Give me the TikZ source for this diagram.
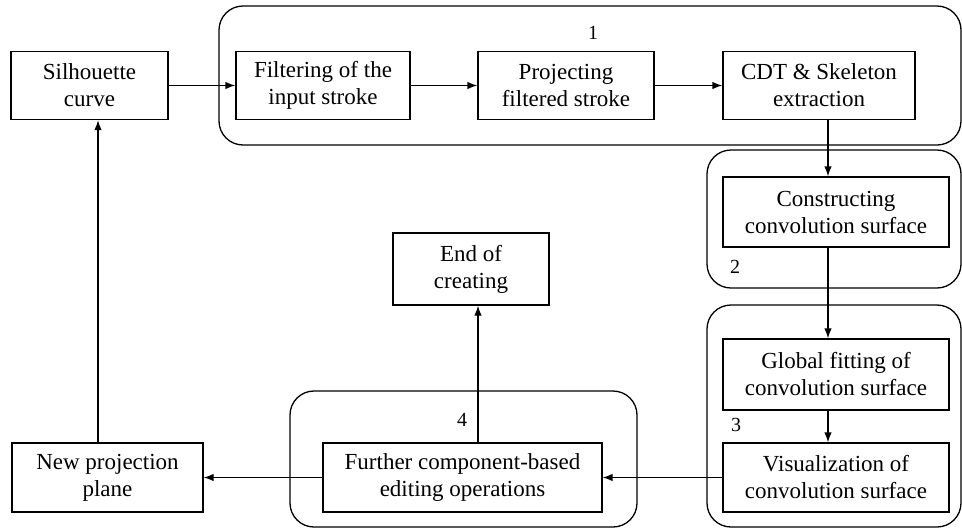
\documentclass[tikz,border=0pt]{standalone}
\usepackage{fontspec}
\setmainfont{Liberation Serif}
\usetikzlibrary{arrows.meta,positioning}

\begin{document}
\begin{tikzpicture}[
        x=1pt, y=-1pt,
        >={Latex[length=10pt,width=7.5pt]},
        every path/.style={line width=1.3pt},
        stage/.style={draw, rectangle, align=center, inner sep=0pt, minimum height=68pt,
            font=\fontsize{23}{27}\selectfont},
        group/.style={draw, rounded corners=24pt},
        tag/.style={font=\fontsize{20}{22}\selectfont, inner sep=0pt}
    ]

    \useasboundingbox (0,0) rectangle (962,528);

    % Groups
    \draw[group] (219,6) rectangle (961,145);
    \draw[group] (707,150) rectangle (961,288);
    \draw[group] (707,305) rectangle (961,527);
    \draw[group] (290,391) rectangle (637,527);

    \node[tag] (t1) at (593,33) {1};
    \node[tag] (t2) at (735,267) {2};
    \node[tag] (t3) at (736,425) {3};
    \node[tag] (t4) at (462,420) {4};

    % Nodes
    \node[stage, minimum width=157pt] (sil) at (89.5,85.5) {Silhouette\\ curve};
    \node[stage, minimum width=174pt] (filt) at (323,85.5) {Filtering of the\\ input stroke};
    \node[stage, minimum width=176pt] (proj) at (566,85.5) {Projecting\\ filtered stroke};
    \node[stage, minimum width=192pt] (cdt) at (819,85.5) {CDT \& Skeleton\\ extraction};

    \node[stage, minimum width=226pt, minimum height=70pt] (cons) at (836,212) {Constructing\\ convolution surface};
    \node[stage, minimum width=226pt, minimum height=71pt] (glob) at (836,374.5) {Global fitting of\\ convolution surface};
    \node[stage, minimum width=226pt, minimum height=69pt] (vis) at (836,477.5) {Visualization of\\ convolution surface};

    \node[stage, minimum width=279pt, minimum height=69pt] (furt) at (462.5,477.5) {Further component-based\\ editing operations};
    \node[stage, minimum width=191pt, minimum height=69pt] (newp) at (107.5,477.5) {New projection\\ plane};
    \node[stage, minimum width=156pt, minimum height=72pt] (endc) at (471,269) {End of\\ creating};

    % Edges
    \draw[->] (sil) -- (filt);
    \draw[->] (filt) -- (proj);
    \draw[->] (proj) -- (cdt);
    \draw[->] ([xshift=9pt]cdt.south) -- ([xshift=-8pt]cons.north);
    \draw[->] ([xshift=-8pt]cons.south) -- ([xshift=-8pt]glob.north);
    \draw[->] ([xshift=-8pt]glob.south) -- ([xshift=-8pt]vis.north);
    \draw[->] (vis) -- (furt);
    \draw[->] (furt) -- (newp);
    \draw[->] ([xshift=15.5pt]furt.north) -- ([xshift=7pt]endc.south);
    \draw[->] ([xshift=-9.5pt]newp.north) -- ([xshift=8.5pt]sil.south);

\end{tikzpicture}
\end{document}
